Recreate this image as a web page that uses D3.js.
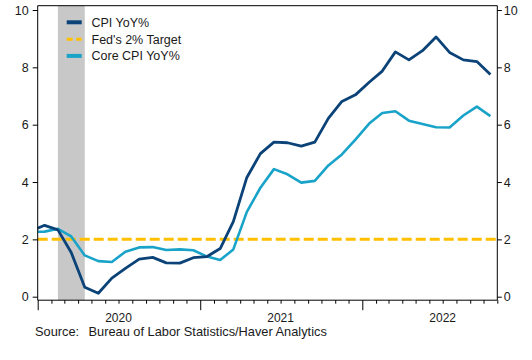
<!DOCTYPE html>
<html>
<head>
<meta charset="utf-8">
<script src="https://cdn.jsdelivr.net/npm/d3@7"></script>
<style>
  html, body { margin: 0; padding: 0; background: #ffffff; }
  svg { display: block; font-family: "Liberation Sans", Arial, sans-serif; }
</style>
</head>
<body>
<svg id="chart" width="532" height="360"></svg>
<script>
// ---- Data (monthly, Dec 2019 – Oct 2022) ----
const months = [
  "2019-12",
  "2020-01","2020-02","2020-03","2020-04","2020-05","2020-06","2020-07","2020-08","2020-09","2020-10","2020-11","2020-12",
  "2021-01","2021-02","2021-03","2021-04","2021-05","2021-06","2021-07","2021-08","2021-09","2021-10","2021-11","2021-12",
  "2022-01","2022-02","2022-03","2022-04","2022-05","2022-06","2022-07","2022-08","2022-09","2022-10"
];
const cpiYoY = [
  2.29,
  2.49, 2.33, 1.54, 0.33, 0.12, 0.65, 0.99, 1.31, 1.37, 1.18, 1.17, 1.36,
  1.40, 1.68, 2.62, 4.16, 4.99, 5.39, 5.37, 5.25, 5.39, 6.22, 6.81, 7.04,
  7.48, 7.87, 8.54, 8.26, 8.58, 9.06, 8.52, 8.26, 8.20, 7.75
];
const coreCpiYoY = [
  2.26,
  2.27, 2.37, 2.10, 1.44, 1.24, 1.21, 1.57, 1.72, 1.73, 1.63, 1.65, 1.62,
  1.40, 1.28, 1.65, 2.96, 3.80, 4.45, 4.27, 3.98, 4.04, 4.58, 4.96, 5.48,
  6.04, 6.41, 6.47, 6.14, 6.02, 5.91, 5.90, 6.32, 6.63, 6.30
];
const fedTarget = 2;
const recession = ["2020-02", "2020-04"];
const yTicks = [0, 2, 4, 6, 8, 10];
const yearLabels = ["2020", "2021", "2022"];
const xStart = "2020-01";
const xEnd = "2022-11";
const legendLabels = ["CPI YoY%", "Fed's 2% Target", "Core CPI YoY%"];
const sourceLabel = "Source:";
const sourceText = "Bureau of Labor Statistics/Haver Analytics";

// ---- Helpers ----
const parseMonth = d3.timeParse("%Y-%m");
const midMonth = s => {
  const a = parseMonth(s);
  const b = d3.timeMonth.offset(a, 1);
  return new Date((a.getTime() + b.getTime()) / 2);
};

// ---- Layout ----
const left = 37.7, right = 497.3;
const frameTop = 5.7, frameBottom = 300.2;
const colCPI = "#0b4378", colCore = "#19a3c9", colFed = "#ffc000";
const textCol = "#1a1a1a";

const svg = d3.select("#chart");

const x = d3.scaleTime()
  .domain([parseMonth(xStart), parseMonth(xEnd)])
  .range([left, right]);
const y = d3.scaleLinear().domain([0, 10]).range([296.7, 10]);

svg.append("defs").append("clipPath").attr("id", "plotclip")
  .append("rect")
  .attr("x", left).attr("y", frameTop)
  .attr("width", right - left).attr("height", frameBottom - frameTop);

// Recession shading
svg.append("rect")
  .attr("x", x(midMonth(recession[0])))
  .attr("y", frameTop)
  .attr("width", x(midMonth(recession[1])) - x(midMonth(recession[0])))
  .attr("height", frameBottom - frameTop)
  .attr("fill", "#c8c8c8");

const plot = svg.append("g").attr("clip-path", "url(#plotclip)");

// Fed target dashed line
plot.append("line")
  .attr("x1", left).attr("x2", right)
  .attr("y1", y(fedTarget)).attr("y2", y(fedTarget))
  .attr("stroke", colFed).attr("stroke-width", 3)
  .attr("stroke-dasharray", "10,4");

const line = d3.line()
  .x((d, i) => x(midMonth(months[i])))
  .y(d => y(d));

plot.append("path").datum(coreCpiYoY)
  .attr("d", line).attr("fill", "none")
  .attr("stroke", colCore).attr("stroke-width", 2.6)
  .attr("stroke-linejoin", "round");

plot.append("path").datum(cpiYoY)
  .attr("d", line).attr("fill", "none")
  .attr("stroke", colCPI).attr("stroke-width", 2.8)
  .attr("stroke-linejoin", "round");

// Frame: top line
svg.append("line")
  .attr("x1", left).attr("x2", right)
  .attr("y1", frameTop).attr("y2", frameTop)
  .attr("stroke", "#000").attr("stroke-width", 1);

// Left axis
const yAxisL = d3.axisLeft(y).tickValues(yTicks).tickSize(5).tickPadding(4).tickFormat(d3.format("d"));
const gL = svg.append("g").attr("transform", `translate(${left},0)`).call(yAxisL);
gL.select(".domain").remove();
gL.append("line").attr("x1", 0).attr("x2", 0).attr("y1", frameTop).attr("y2", frameBottom).attr("stroke", "#000");

// Right axis
const yAxisR = d3.axisRight(y).tickValues(yTicks).tickSize(4.5).tickPadding(2).tickFormat(d3.format("d"));
const gR = svg.append("g").attr("transform", `translate(${right},0)`).call(yAxisR);
gR.select(".domain").remove();
gR.append("line").attr("x1", 0).attr("x2", 0).attr("y1", frameTop).attr("y2", frameBottom).attr("stroke", "#000");

[gL, gR].forEach(g => {
  g.selectAll("text").attr("font-size", 12.5).attr("fill", textCol).attr("font-family", "Liberation Sans, Arial, sans-serif");
  g.selectAll(".tick line").attr("stroke", "#000");
});

// Bottom axis: monthly minor ticks, yearly major ticks
const monthTicks = d3.timeMonth.range(parseMonth(xStart), d3.timeMonth.offset(parseMonth(xEnd), 1));
const xAxis = d3.axisBottom(x).tickValues(monthTicks).tickSize(3.5).tickFormat("");
const gB = svg.append("g").attr("transform", `translate(0,${frameBottom})`).call(xAxis);
gB.select(".domain").remove();
gB.append("line").attr("x1", left).attr("x2", right).attr("y1", 0).attr("y2", 0).attr("stroke", "#000");
gB.selectAll(".tick line")
  .attr("stroke", "#000")
  .attr("y2", d => d.getMonth() === 0 ? 10 : 3.5);

// Year labels centred in the year span
yearLabels.forEach(yr => {
  const mid = new Date(+yr, 6, 1);
  svg.append("text")
    .attr("x", x(mid)).attr("y", 322.4)
    .attr("text-anchor", "middle")
    .attr("font-size", 12).attr("fill", textCol)
    .text(yr);
});

// Legend
const legendColors = [colCPI, colFed, colCore];
const legendY = [22.3, 39.3, 55.9];
legendLabels.forEach((lab, i) => {
  const g = svg.append("g");
  if (i === 1) {
    g.append("line").attr("x1", 66.7).attr("x2", 81.7)
      .attr("y1", legendY[i]).attr("y2", legendY[i])
      .attr("stroke", legendColors[i]).attr("stroke-width", 3)
      .attr("stroke-dasharray", "6,3.5");
  } else {
    g.append("line").attr("x1", 66.7).attr("x2", 81.7)
      .attr("y1", legendY[i]).attr("y2", legendY[i])
      .attr("stroke", legendColors[i]).attr("stroke-width", 4);
  }
  g.append("text").attr("x", 91.5).attr("y", legendY[i] + 4.4)
    .attr("font-size", 12.5).attr("fill", textCol).text(lab);
});

// Source
svg.append("text").attr("x", 35).attr("y", 336.4)
  .attr("font-size", 12.8).attr("fill", textCol).text(sourceLabel);
svg.append("text").attr("x", 88.5).attr("y", 336.4)
  .attr("font-size", 12.8).attr("fill", textCol).text(sourceText);
</script>
</body>
</html>
